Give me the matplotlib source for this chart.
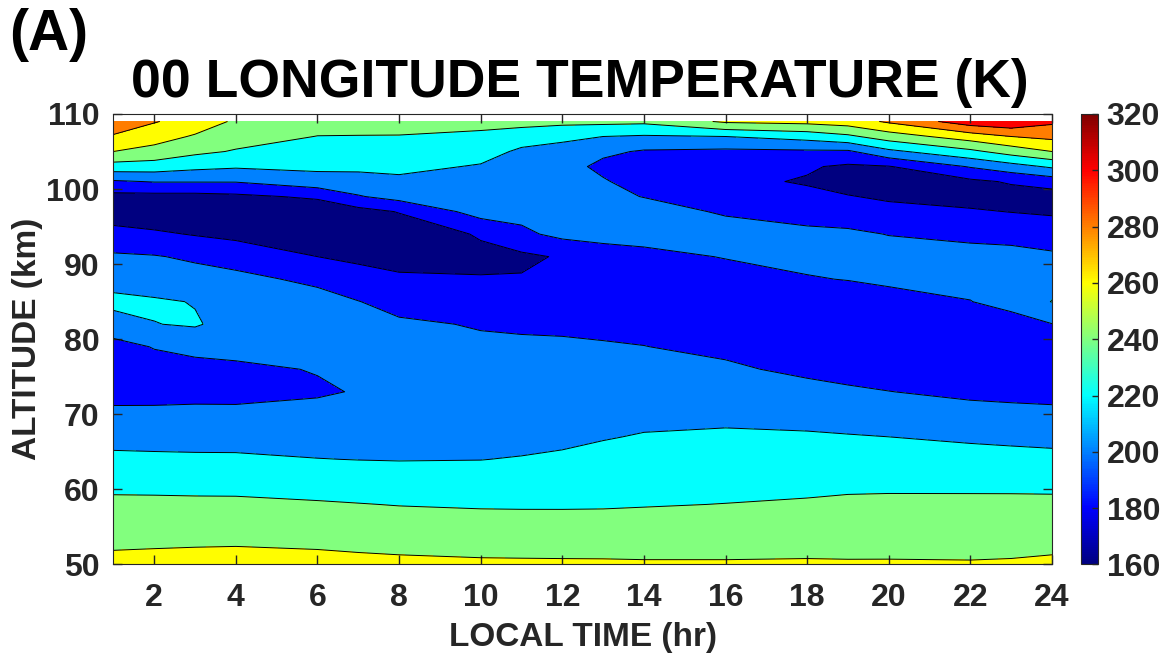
import numpy as np
import matplotlib.pyplot as plt
from matplotlib.colors import LinearSegmentedColormap, Normalize
from matplotlib.cm import ScalarMappable

plt.rcParams['font.family'] = ['Liberation Sans', 'DejaVu Sans']
plt.rcParams['font.weight'] = 'bold'

# grid: local time (hr) columns, altitude (km) rows
local_time = [1, 2, 3, 4, 6, 7, 8, 10, 11, 12, 13, 14, 16, 18, 19, 20, 22, 23, 24]
altitude = [50, 52, 55, 58, 61, 64, 67, 70, 73, 76, 79, 82, 85, 88, 91, 94,
            97, 99, 101, 103, 105, 107, 109]

# temperature profiles (K), bottom to top, one list per local time
t01 = [265, 259.7, 251.8, 244, 234.7, 224.2, 213.7, 203.2, 195, 190, 193, 212,
       225, 212.5, 202.5, 187.5, 168, 174, 197.6, 231.7, 260, 278, 293]
t02 = [265.7, 260.3, 252.1, 243.9, 234.4, 223.6, 213.3, 203.3, 195, 192, 201,
       219.5, 223, 207, 201.2, 183, 167, 174, 201, 230.8, 253.3, 268.4, 281.3]
t03 = [266, 260.8, 252.8, 243.6, 234, 223.2, 212.9, 204.1, 195, 193.3, 205.8,
       222, 219, 207.7, 197, 178.8, 167, 174, 201, 225.3, 244.1, 257.9, 271.7]
t04 = [267, 261.2, 252.4, 243.6, 233.7, 222.9, 213.2, 203.9, 195, 197, 205, 212,
       213, 204.9, 192.5, 175, 166, 176, 201, 222.3, 238.5, 248, 257]
t06 = [266, 260, 250.9, 241.8, 231.3, 220.4, 212.8, 205.4, 198, 200.8, 206, 209,
       207, 196, 180, 170, 167, 183, 212, 224, 231, 239.6, 248]
t07 = [264.8, 258.8, 249.7, 240.6, 230.2, 219.7, 212, 205, 201, 204, 207, 208,
       200.5, 188, 176, 168, 173, 198.5, 213, 223.9, 231.6, 239.4, 247]
t08 = [264, 257.8, 248.6, 239.4, 229.2, 219.3, 212, 206, 204, 205, 206, 203,
       193.4, 183.1, 173, 167, 181, 207, 216, 224.7, 232, 239.3, 246.5]
t10 = [262.8, 256.6, 247.4, 238.2, 228.9, 219.7, 213, 208, 206, 205, 203.5,
       198.6, 189.9, 181.2, 175, 182, 208, 210, 213, 218.5, 227, 236.3, 245.6]
t11 = [262.6, 256.4, 247.2, 238, 229.6, 221.1, 214, 209, 207, 205.5, 203, 197.5,
       189, 181.5, 176, 196, 206, 208, 210, 212, 217, 228, 248]
t12 = [262.4, 256.3, 247.1, 238, 230.8, 223.3, 215.5, 210, 208, 206, 203, 196.5,
       189, 184, 182, 205, 206, 205, 204, 208, 212, 225, 245]
t13 = [262.3, 256.2, 247.2, 238.2, 232.1, 225.5, 218.9, 212.5, 209, 206, 201.5,
       196, 189, 184, 186, 210, 208, 204, 202, 195, 204, 220, 245]
t14 = [261.9, 256, 247.3, 239, 233.1, 227.1, 221.2, 215.2, 211, 207, 200.3, 195,
       189, 185, 191, 212, 207, 199.5, 191, 192, 198, 218, 244]
t16 = [261.7, 256.4, 248.3, 240.3, 234.3, 228.4, 222.5, 216.2, 209.6, 202.9, 196,
       190, 186, 187, 201.5, 208, 198, 188, 184, 185, 196, 220, 263]
t18 = [261.9, 257.1, 249.9, 242.7, 233.2, 226.4, 222, 214.2, 205.9, 196.1, 189,
       184, 185, 198, 208, 204, 193, 184, 178.5, 182, 197, 227.7, 266]
t19 = [261.6, 257, 250.1, 243.2, 236, 228.6, 221.1, 212.1, 202.6, 194, 187, 182,
       184, 201, 207, 203, 191, 181, 172, 177, 197, 236, 270]
t20 = [261.6, 257.1, 250.4, 243.6, 236.2, 228.1, 220, 210.2, 200.3, 192, 185,
       181, 188, 206, 207, 199.5, 186, 177, 171, 179, 215.4, 250, 283]
t22 = [261.3, 256.9, 250.3, 243.7, 236, 226.8, 217.2, 206.7, 196, 189, 183, 182,
       199.5, 206, 206, 196, 182, 173, 176, 201.5, 235.4, 270, 311]
t23 = [261.8, 257.3, 250.6, 243.8, 235.8, 226, 215.9, 205.3, 195, 188, 182, 190,
       208, 211, 206, 194, 179.5, 172, 182, 212, 248.7, 280, 316]
t24 = [263.1, 258.3, 251.1, 243.9, 235.3, 225.1, 214.7, 204.1, 194.5, 187, 183,
       199.5, 220.5, 215, 203, 191, 177.5, 171, 189, 223, 260, 285.1, 303.7]

temps = np.column_stack([t01, t02, t03, t04, t06, t07, t08, t10, t11, t12, t13,
                         t14, t16, t18, t19, t20, t22, t23, t24])

levels = np.arange(160, 321, 20)

# MATLAB style jet
jet_m = LinearSegmentedColormap.from_list('jet_m', [
    (0.0, (0, 0, 0.5)), (0.125, (0, 0, 1)), (0.375, (0, 1, 1)),
    (0.625, (1, 1, 0)), (0.875, (1, 0, 0)), (1.0, (0.5, 0, 0))])
norm = Normalize(160, 320)
fill_colors = [jet_m(norm(lv)) for lv in levels[:-1]]

fig = plt.figure(figsize=(11.61, 6.58), dpi=100)
ax = fig.add_axes([0.0977, 0.1421, 0.8084, 0.6847])
cax = fig.add_axes([0.9308, 0.1421, 0.0152, 0.6847])

X, Y = np.meshgrid(local_time, altitude)
ax.contourf(X, Y, temps, levels=levels, colors=fill_colors)
ax.contour(X, Y, temps, levels=levels, colors='k', linewidths=0.7)

ax.set_xlim(1, 24)
ax.set_ylim(50, 110)
ax.set_xticks(np.arange(2, 25, 2))
ax.set_yticks(np.arange(50, 111, 10))
ax.tick_params(direction='in', top=True, right=True, length=6.5, width=1,
               labelsize=23, colors='#262626')
ax.tick_params(axis='x', pad=13)
ax.tick_params(axis='y', pad=10)
for s in ax.spines.values():
    s.set_color('#262626')
ax.set_xlabel('LOCAL TIME (hr)', fontsize=24, fontweight='bold', color='#262626', labelpad=7)
ax.set_ylabel('ALTITUDE (km)', fontsize=24, fontweight='bold', color='#262626', labelpad=2)

cb = fig.colorbar(ScalarMappable(norm=norm, cmap=jet_m), cax=cax)
cb.set_ticks(np.arange(160, 321, 20))
cax.tick_params(direction='in', length=4, width=1, labelsize=23, colors='#262626', pad=6)
cb.outline.set_edgecolor('#262626')

fig.text(580 / 1161, 1 - 97 / 658, '00 LONGITUDE TEMPERATURE (K)', fontsize=38.5,
         fontweight='bold', ha='center', va='baseline')
fig.text(9 / 1161, 1 - 50 / 658, '(A)', fontsize=41, fontweight='bold',
         ha='left', va='baseline')

fig.savefig('out.png', dpi=100)
